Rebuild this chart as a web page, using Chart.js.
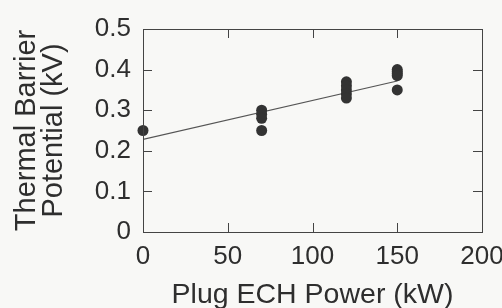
<!DOCTYPE html>
<html>
<head>
<meta charset="utf-8">
<script src="https://cdn.jsdelivr.net/npm/chart.js@4/dist/chart.umd.min.js"></script>
<style>
  html, body { margin: 0; padding: 0; background: #f8f8f6; }
  #wrap { width: 502px; height: 308px; }
</style>
</head>
<body>
<div id="wrap"><canvas id="chart1"></canvas></div>
<script>
const powerX = [0, 70, 70, 70, 70, 120, 120, 120, 120, 120, 150, 150, 150, 150, 150];
const barrierY = [0.25, 0.30, 0.29, 0.28, 0.25, 0.37, 0.36, 0.35, 0.34, 0.33, 0.40, 0.395, 0.39, 0.385, 0.35];

// fitted line
const fitX = [0, 150];
const fitY = [0.228, 0.372];

const xTicks = [0, 50, 100, 150, 200];
const yTicks = [0, 0.1, 0.2, 0.3, 0.4, 0.5];
const yTickLabels = ['0', '0.1', '0.2', '0.3', '0.4', '0.5'];

const ink = '#2e2e2e';

// ticks pointing into the box, on all four sides
const inwardTicks = {
    id: 'inwardTicks',
    afterDraw(chart) {
        const c = chart.ctx;
        const a = chart.chartArea;
        const xs = chart.scales.x, ys = chart.scales.y;
        c.save();
        c.strokeStyle = '#444';
        c.lineWidth = 1;
        c.beginPath();
        xTicks.slice(1, -1).forEach(v => {
            const px = Math.round(xs.getPixelForValue(v)) + 0.5;
            c.moveTo(px, a.bottom); c.lineTo(px, a.bottom - 9);
            c.moveTo(px, a.top); c.lineTo(px, a.top + 9);
        });
        yTicks.slice(1, -1).forEach(v => {
            const py = Math.round(ys.getPixelForValue(v)) + 0.5;
            c.moveTo(a.left, py); c.lineTo(a.left + 9, py);
            c.moveTo(a.right, py); c.lineTo(a.right - 9, py);
        });
        c.stroke();
        c.strokeRect(a.left + 0.5, a.top + 0.5, a.right - a.left, a.bottom - a.top);
        c.restore();
    }
};

const ctx1 = document.getElementById('chart1').getContext('2d');
const chart1 = new Chart(ctx1, {
    type: 'scatter',
    data: {
        datasets: [{
            label: 'data',
            data: powerX.map((x, i) => ({ x: x, y: barrierY[i] })),
            backgroundColor: '#333',
            borderColor: '#333',
            pointRadius: 5.5,
            pointBorderWidth: 0,
            clip: false
        }, {
            label: 'fit',
            type: 'line',
            data: fitX.map((x, i) => ({ x: x, y: fitY[i] })),
            borderColor: '#555',
            borderWidth: 1.2,
            pointRadius: 0,
            fill: false
        }]
    },
    options: {
        responsive: true,
        maintainAspectRatio: false,
        animation: false,
        layout: { padding: { top: 29, right: 20, left: 13, bottom: 0 } },
        plugins: { legend: { display: false }, tooltip: { enabled: false } },
        scales: {
            x: {
                type: 'linear',
                min: 0,
                max: 200,
                afterBuildTicks: s => { s.ticks = xTicks.map(v => ({ value: v })); },
                afterFit: s => { s.height = 76; s.paddingRight = 0; s.paddingLeft = 0; },
                grid: { display: false, drawTicks: false },
                border: { display: false },
                ticks: {
                    color: ink,
                    padding: 9,
                    maxRotation: 0,
                    font: { family: 'Liberation Sans', size: 26 }
                },
                title: {
                    display: true,
                    text: 'Plug ECH Power (kW)',
                    color: ink,
                    padding: { top: 6, bottom: -4 },
                    font: { family: 'Liberation Sans', size: 28.5 }
                }
            },
            y: {
                min: 0,
                max: 0.5,
                afterBuildTicks: s => { s.ticks = yTicks.map(v => ({ value: v })); },
                afterFit: s => { s.width = 130; },
                grid: { display: false, drawTicks: false },
                border: { display: false },
                ticks: {
                    color: ink,
                    padding: 12,
                    font: { family: 'Liberation Sans', size: 26 },
                    callback: (v, i) => yTickLabels[i]
                },
                title: {
                    display: true,
                    text: ['Thermal Barrier', 'Potential (kV)'],
                    color: ink,
                    padding: { top: 0, bottom: 4 },
                    font: { family: 'Liberation Sans', size: 29, lineHeight: 0.95 }
                }
            }
        }
    },
    plugins: [inwardTicks]
});
</script>
</body>
</html>
